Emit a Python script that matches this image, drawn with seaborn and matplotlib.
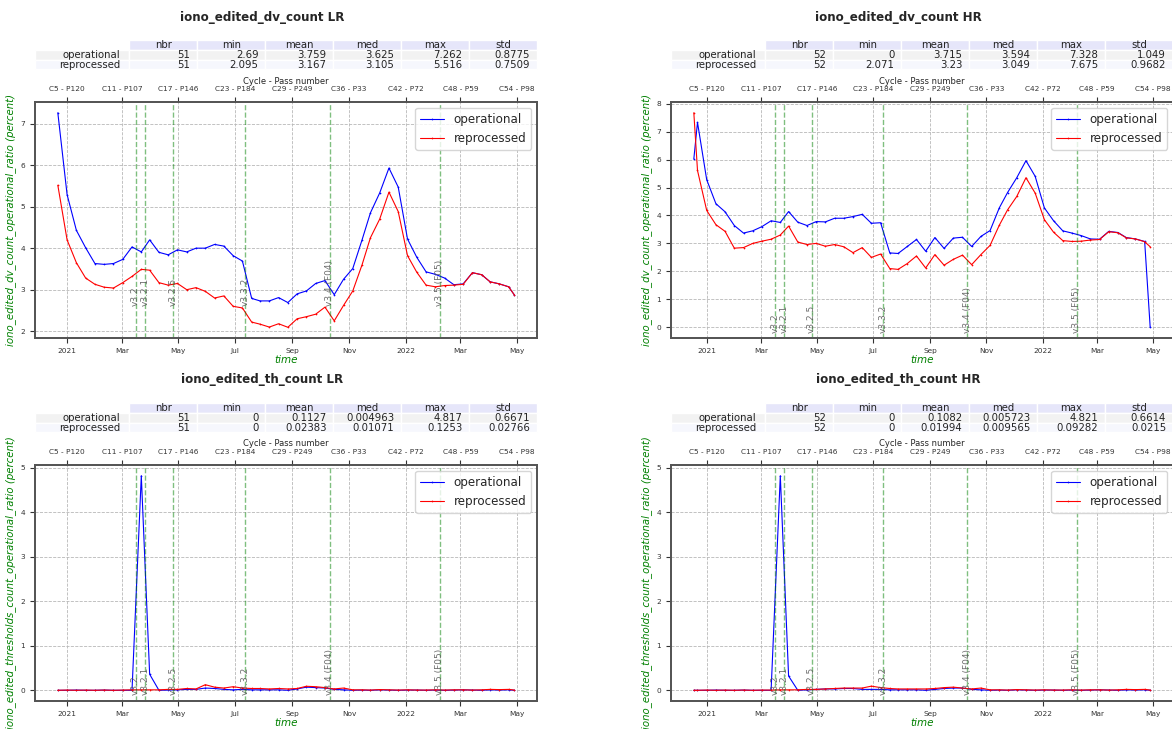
import matplotlib
matplotlib.use("Agg")
import matplotlib.pyplot as plt
import matplotlib.dates as mdates
import pandas as pd
import seaborn as sns

# one point per cycle (C4 .. C54), HR has an extra partial cycle at the start
dates_lr = [
    "2020-12-22", "2021-01-01", "2021-01-11", "2021-01-21", "2021-01-31", "2021-02-10",
    "2021-02-20", "2021-03-02", "2021-03-12", "2021-03-22", "2021-03-31", "2021-04-10",
    "2021-04-20", "2021-04-30", "2021-05-10", "2021-05-20", "2021-05-30", "2021-06-09",
    "2021-06-19", "2021-06-29", "2021-07-09", "2021-07-19", "2021-07-28", "2021-08-07",
    "2021-08-17", "2021-08-27", "2021-09-06", "2021-09-16", "2021-09-26", "2021-10-06",
    "2021-10-16", "2021-10-26", "2021-11-05", "2021-11-15", "2021-11-24", "2021-12-04",
    "2021-12-14", "2021-12-24", "2022-01-03", "2022-01-13", "2022-01-23", "2022-02-02",
    "2022-02-12", "2022-02-22", "2022-03-04", "2022-03-14", "2022-03-24", "2022-04-02",
    "2022-04-12", "2022-04-22", "2022-04-28",
]
dates_hr = ["2020-12-18"] + dates_lr

dv_lr_oper = [7.262, 5.29, 4.43, 4.01, 3.63, 3.61, 3.63, 3.73, 4.03, 3.91,
              4.2, 3.9, 3.84, 3.96, 3.91, 4.0, 4.0, 4.09, 4.05, 3.82,
              3.69, 2.79, 2.73, 2.73, 2.81, 2.69, 2.9, 2.97, 3.15, 3.22,
              2.88, 3.25, 3.51, 4.2, 4.85, 5.33, 5.93, 5.47, 4.22, 3.78,
              3.43, 3.37, 3.28, 3.12, 3.14, 3.41, 3.36, 3.19, 3.14, 3.07, 2.88]
dv_lr_repr = [5.516, 4.2, 3.65, 3.28, 3.13, 3.06, 3.04, 3.17, 3.32, 3.49,
              3.47, 3.17, 3.11, 3.15, 3.0, 3.05, 2.96, 2.8, 2.85, 2.6,
              2.56, 2.22, 2.17, 2.1, 2.18, 2.095, 2.3, 2.35, 2.41, 2.58,
              2.25, 2.62, 2.97, 3.6, 4.25, 4.7, 5.35, 4.88, 3.82, 3.42,
              3.11, 3.07, 3.1, 3.11, 3.13, 3.41, 3.36, 3.19, 3.14, 3.07, 2.88]
dv_hr_oper = [6.02, 7.328, 5.28, 4.42, 4.13, 3.64, 3.37, 3.45, 3.6, 3.81,
              3.75, 4.14, 3.76, 3.64, 3.78, 3.77, 3.9, 3.9, 3.96, 4.04,
              3.72, 3.74, 2.66, 2.64, 2.89, 3.14, 2.72, 3.21, 2.82, 3.19,
              3.22, 2.89, 3.25, 3.46, 4.27, 4.82, 5.35, 5.96, 5.4, 4.27,
              3.81, 3.45, 3.37, 3.28, 3.16, 3.15, 3.43, 3.39, 3.21, 3.16, 3.07, 0.0]
dv_hr_repr = [7.675, 5.61, 4.18, 3.67, 3.43, 2.83, 2.85, 3.0, 3.08, 3.15,
              3.3, 3.62, 3.05, 2.96, 3.0, 2.9, 2.96, 2.88, 2.67, 2.85,
              2.5, 2.62, 2.1, 2.071, 2.28, 2.55, 2.12, 2.6, 2.22, 2.43,
              2.58, 2.24, 2.6, 2.93, 3.65, 4.2, 4.68, 5.35, 4.8, 3.85,
              3.4, 3.1, 3.07, 3.08, 3.12, 3.14, 3.42, 3.38, 3.2, 3.16, 3.06, 2.88]

th_lr_oper = [0.0, 0.0, 0.005, 0.0, 0.0, 0.005, 0.0, 0.0, 0.0, 4.817,
              0.36, 0.0, 0.005, 0.01, 0.02, 0.02, 0.05, 0.04, 0.02, 0.01,
              0.02, 0.01, 0.01, 0.01, 0.01, 0.0, 0.03, 0.07, 0.06, 0.05,
              0.02, 0.01, 0.0, 0.005, 0.0, 0.01, 0.005, 0.0, 0.005, 0.005,
              0.0, 0.005, 0.0, 0.005, 0.01, 0.005, 0.0, 0.01, 0.005, 0.01, 0.0]
th_lr_repr = [0.0, 0.005, 0.0, 0.005, 0.0, 0.005, 0.0, 0.005, 0.01, 0.01,
              0.01, 0.01, 0.02, 0.02, 0.04, 0.03, 0.1253, 0.07, 0.05, 0.08,
              0.05, 0.04, 0.04, 0.03, 0.04, 0.03, 0.04, 0.09, 0.08, 0.06,
              0.03, 0.05, 0.01, 0.01, 0.005, 0.015, 0.01, 0.005, 0.01, 0.005,
              0.005, 0.01, 0.005, 0.01, 0.01, 0.005, 0.01, 0.02, 0.015, 0.02, 0.005]
th_hr_oper = [0.0, 0.0, 0.0, 0.005, 0.0, 0.0, 0.005, 0.0, 0.0, 0.0,
              4.821, 0.32, 0.0, 0.01, 0.02, 0.03, 0.03, 0.04, 0.04, 0.02,
              0.02, 0.02, 0.01, 0.01, 0.01, 0.01, 0.0, 0.02, 0.04, 0.05,
              0.05, 0.02, 0.01, 0.0, 0.005, 0.0, 0.01, 0.005, 0.0, 0.005,
              0.005, 0.0, 0.005, 0.0, 0.005, 0.01, 0.005, 0.0, 0.01, 0.005, 0.01, 0.0]
th_hr_repr = [0.0, 0.0, 0.005, 0.0, 0.005, 0.0, 0.005, 0.0, 0.005, 0.005,
              0.01, 0.01, 0.01, 0.02, 0.02, 0.03, 0.04, 0.05, 0.05, 0.05,
              0.0928, 0.06, 0.04, 0.03, 0.03, 0.03, 0.03, 0.04, 0.06, 0.07,
              0.05, 0.03, 0.05, 0.01, 0.01, 0.005, 0.015, 0.01, 0.005, 0.01,
              0.005, 0.005, 0.01, 0.005, 0.01, 0.01, 0.005, 0.01, 0.02, 0.015, 0.02, 0.005]

stat_cols = ["nbr", "min", "mean", "med", "max", "std"]
stat_rows = ["operational", "reprocessed"]
stats_dv_lr = [["51", "2.69", "3.759", "3.625", "7.262", "0.8775"],
               ["51", "2.095", "3.167", "3.105", "5.516", "0.7509"]]
stats_dv_hr = [["52", "0", "3.715", "3.594", "7.328", "1.049"],
               ["52", "2.071", "3.23", "3.049", "7.675", "0.9682"]]
stats_th_lr = [["51", "0", "0.1127", "0.004963", "4.817", "0.6671"],
               ["51", "0", "0.02383", "0.01071", "0.1253", "0.02766"]]
stats_th_hr = [["52", "0", "0.1082", "0.005723", "4.821", "0.6614"],
               ["52", "0", "0.01994", "0.009565", "0.09282", "0.0215"]]

version_dates = ["2021-03-16", "2021-03-26", "2021-04-25", "2021-07-12", "2021-10-11", "2022-02-07"]
version_names = ["v3.2", "v3.2.1", "v3.2.5", "v3.3.2", "v3.4 (F04)", "v3.5 (F05)"]

tick_dates = ["2021-01-01", "2021-03-01", "2021-05-01", "2021-07-01", "2021-09-01",
              "2021-11-01", "2022-01-01", "2022-03-01", "2022-05-01"]
tick_labels = ["2021", "Mar", "May", "Jul", "Sep", "Nov", "2022", "Mar", "May"]
cycle_labels = ["C5 - P120", "C11 - P107", "C17 - P146", "C23 - P184", "C29 - P249",
                "C36 - P33", "C42 - P72", "C48 - P59", "C54 - P98"]

sns.set_style("ticks")

fig = plt.figure(figsize=(11.72, 7.29), dpi=100)

W, H = 1172, 729
ax_w, ax_h = 502 / W, 236 / H
positions = {
    "tl": [35 / W, 1 - 338 / H, ax_w, ax_h],
    "tr": [671 / W, 1 - 338 / H, ax_w, ax_h],
    "bl": [35 / W, 1 - 701 / H, ax_w, ax_h],
    "br": [671 / W, 1 - 701 / H, ax_w, ax_h],
}


def draw_panel(pos, dates, oper, repr_, title, title_xy, stats, ylabel, text_y):
    ax = fig.add_axes(pos)
    x = pd.to_datetime(dates)
    sns.lineplot(x=x, y=oper, ax=ax, color="blue", linewidth=0.8, marker=".",
                 markersize=2.5, markeredgewidth=0, label="operational")
    sns.lineplot(x=x, y=repr_, ax=ax, color="red", linewidth=0.8, marker=".",
                 markersize=2.5, markeredgewidth=0, label="reprocessed")

    for d, name in zip(version_dates, version_names):
        xd = mdates.date2num(pd.Timestamp(d))
        ax.axvline(xd, color="green", linestyle="--", linewidth=1, alpha=0.5)
        ax.text(xd, text_y, name, rotation=90, ha="center", va="bottom",
                fontsize=6.5, color="#555555", alpha=0.85)

    ticks = mdates.date2num(pd.to_datetime(tick_dates))
    ax.set_xticks(ticks)
    ax.set_xticklabels(tick_labels)
    ax.grid(True, linestyle="--", color="#b8b8b8", linewidth=0.6)
    ax.tick_params(labelsize=5.3, length=3.5, width=0.8, colors="#333333")
    ax.set_xlabel("time", color="green", style="italic", fontsize=7.5, labelpad=1)
    ax.set_ylabel(ylabel, color="green", style="italic", fontsize=7.3, labelpad=3)
    for s in ax.spines.values():
        s.set_color("#555555")
        s.set_linewidth(1.3)
    ax.legend(loc="upper right", fontsize=8.6)

    top = ax.twiny()
    top.set_xlim(ax.get_xlim())
    top.set_xticks(ticks)
    top.set_xticklabels(cycle_labels)
    top.tick_params(labelsize=5.3, length=3.5, width=0.8, colors="#333333")
    top.set_xlabel("Cycle - Pass number", fontsize=6, labelpad=2)
    for s in top.spines.values():
        s.set_color("#555555")
        s.set_linewidth(1.3)

    # stats table above the plot
    cells = [[r] + v for r, v in zip(stat_rows, stats)]
    tab = ax.table(cellText=cells, colLabels=[""] + stat_cols, cellLoc="right",
                   colLoc="center", colWidths=[0.188] + [0.1353] * 6,
                   bbox=[0, 1.138, 1, 0.125])
    tab.auto_set_font_size(False)
    tab.set_fontsize(7.3)
    row_colors = ["#f2f2f2", "#f6f7fd"]
    for (r, c), cell in tab.get_celld().items():
        cell.set_edgecolor("white")
        cell.set_linewidth(1)
        if r == 0:
            cell.set_facecolor("white" if c == 0 else "#e6e6fa")
        else:
            cell.set_facecolor(row_colors[r - 1])
        cell.get_text().set_color("#222222")

    fig.text(title_xy[0], title_xy[1], title, ha="center", va="center",
             fontsize=8.6, fontweight="bold")
    return ax


dv_label = "iono_edited_dv_count_operational_ratio (percent)"
th_label = "iono_edited_thresholds_count_operational_ratio (percent)"

draw_panel(positions["tl"], dates_lr, dv_lr_oper, dv_lr_repr, "iono_edited_dv_count LR",
           (262 / W, 1 - 17 / H), stats_dv_lr, dv_label, 2.6)
draw_panel(positions["tr"], dates_hr, dv_hr_oper, dv_hr_repr, "iono_edited_dv_count HR",
           (898 / W, 1 - 17 / H), stats_dv_hr, dv_label, -0.21)
draw_panel(positions["bl"], dates_lr, th_lr_oper, th_lr_repr, "iono_edited_th_count LR",
           (262 / W, 1 - 380 / H), stats_th_lr, th_label, -0.1)
draw_panel(positions["br"], dates_hr, th_hr_oper, th_hr_repr, "iono_edited_th_count HR",
           (898 / W, 1 - 380 / H), stats_th_hr, th_label, -0.1)

fig.savefig("out.png", dpi=100)
